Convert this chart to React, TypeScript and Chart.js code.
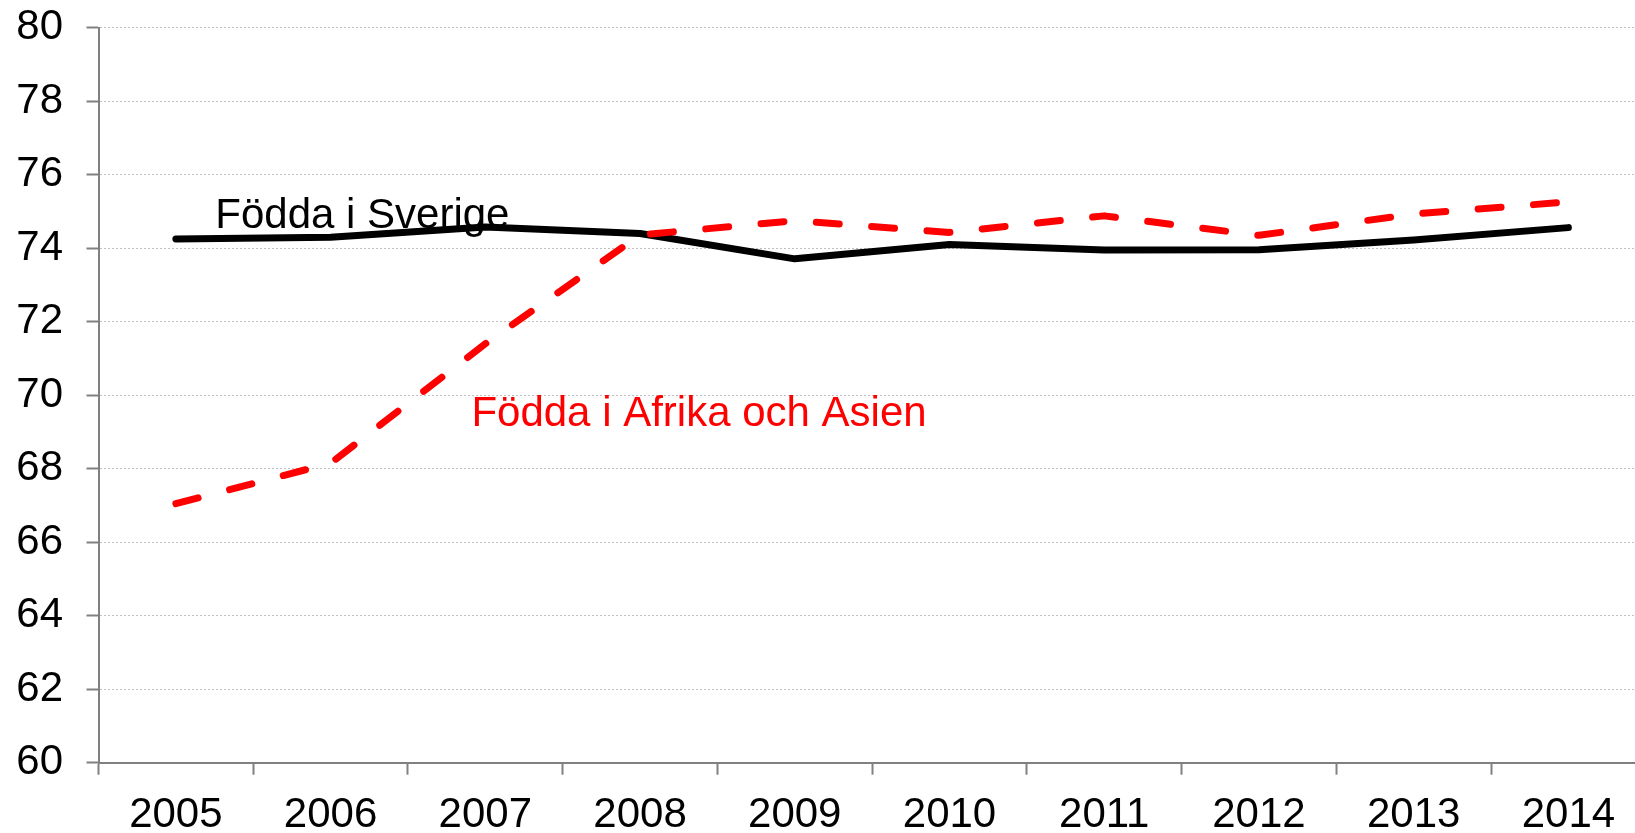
import React, { useEffect, useRef } from "react";
import { Chart, registerables } from "chart.js";

Chart.register(...registerables);

const years = ["2005", "2006", "2007", "2008", "2009", "2010", "2011", "2012", "2013", "2014"];
const sverige = [74.25, 74.3, 74.58, 74.4, 73.71, 74.1, 73.95, 73.96, 74.22, 74.56];
const afrikaAsien = [67.05, 68.15, 71.4, 74.36, 74.75, 74.43, 74.88, 74.35, 74.93, 75.26];
const yMin = 60;
const yMax = 80;
const yStep = 2;
const labelSverige = "Födda i Sverige";
const labelAfrika = "Födda i Afrika och Asien";

const FONT = "'Liberation Sans', Arial, Helvetica, sans-serif";

export default function App() {
  const ref = useRef<HTMLCanvasElement | null>(null);

  useEffect(() => {
    if (!ref.current) return;
    const textPlugin = {
      id: "seriesLabels",
      afterDatasetsDraw(chart: any) {
        const { ctx, scales } = chart;
        const x = scales.x;
        const y = scales.y;
        ctx.save();
        ctx.font = `42px ${FONT}`;
        ctx.textAlign = "left";
        ctx.textBaseline = "alphabetic";
        ctx.fillStyle = "#000000";
        ctx.fillText(labelSverige, x.getPixelForValue(0.255), y.getPixelForValue(74.54));
        ctx.fillStyle = "#ff0000";
        ctx.fillText(labelAfrika, x.getPixelForValue(1.91), y.getPixelForValue(69.16));
        ctx.restore();
      },
    };

    const chart = new Chart(ref.current, {
      type: "line",
      data: {
        labels: years,
        datasets: [
          {
            label: labelSverige,
            data: sverige,
            borderColor: "#000000",
            borderWidth: 7,
            borderCapStyle: "round",
            borderJoinStyle: "round",
            pointRadius: 0,
            tension: 0,
            fill: false,
            order: 1,
          },
          {
            label: labelAfrika,
            data: afrikaAsien,
            borderColor: "#ff0000",
            borderWidth: 7,
            borderDash: [23, 32.5],
            borderCapStyle: "round",
            borderJoinStyle: "round",
            pointRadius: 0,
            tension: 0,
            fill: false,
            order: 0,
          },
        ],
      },
      options: {
        responsive: false,
        maintainAspectRatio: false,
        animation: false,
        devicePixelRatio: 1,
        layout: { padding: { top: 0, right: 14.25, bottom: 0, left: 0 } },
        plugins: {
          legend: { display: false },
          tooltip: { enabled: false },
          title: { display: false },
        },
        scales: {
          x: {
            type: "category",
            offset: true,
            afterFit: (s: any) => {
              s.height = 70.3;
            },
            grid: {
              offset: true,
              drawOnChartArea: false,
              drawTicks: true,
              tickLength: 12,
              tickColor: "#808080",
              tickWidth: 2,
              tickBorderDash: [],
            },
            border: { display: true, color: "#808080", width: 2 },
            ticks: {
              color: "#000000",
              font: { family: FONT, size: 42 },
              padding: 15.5,
              maxRotation: 0,
              autoSkip: false,
            },
          },
          y: {
            type: "linear",
            min: yMin,
            max: yMax,
            afterFit: (s: any) => {
              s.width = 98.5;
            },
            grid: {
              color: "#c0c0c0",
              lineWidth: 1,
              drawTicks: true,
              tickLength: 12,
              tickColor: "#808080",
              tickWidth: 2,
              tickBorderDash: [],
            },
            border: { display: true, color: "#808080", width: 2, dash: [2, 2] },
            ticks: {
              stepSize: yStep,
              color: "#000000",
              font: { family: FONT, size: 42, lineHeight: 0.2 },
              padding: 23.5,
            },
          },
        },
      },
      plugins: [textPlugin],
    });
    return () => chart.destroy();
  }, []);

  return (
    <div
      style={{
        position: "fixed",
        left: 0,
        top: 0,
        width: 1635,
        height: 833,
        overflow: "hidden",
        background: "#ffffff",
      }}
    >
      <canvas ref={ref} width={1660} height={833} style={{ display: "block", width: 1660, height: 833 }} />
    </div>
  );
}
